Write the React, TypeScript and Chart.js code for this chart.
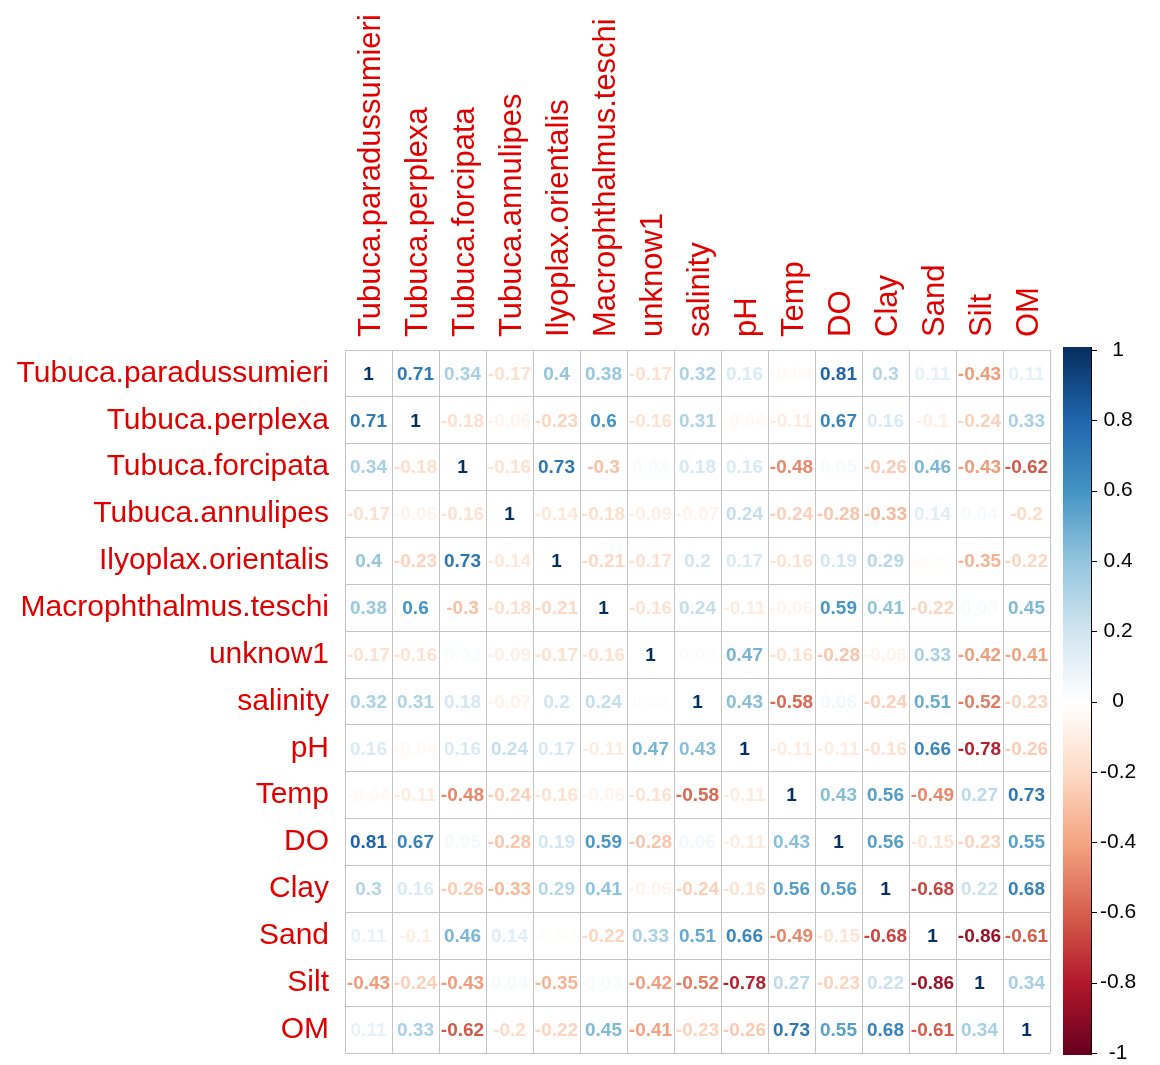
import { useEffect, useRef } from 'react';
import { Chart, registerables } from 'chart.js';

Chart.register(...registerables);

const variables = [
  'Tubuca.paradussumieri', 'Tubuca.perplexa', 'Tubuca.forcipata', 'Tubuca.annulipes',
  'Ilyoplax.orientalis', 'Macrophthalmus.teschi', 'unknow1', 'salinity', 'pH', 'Temp',
  'DO', 'Clay', 'Sand', 'Silt', 'OM',
];

const rowParadussumieri = [1, 0.71, 0.34, -0.17, 0.4, 0.38, -0.17, 0.32, 0.16, -0.04, 0.81, 0.3, 0.11, -0.43, 0.11];
const rowPerplexa = [0.71, 1, -0.18, -0.06, -0.23, 0.6, -0.16, 0.31, -0.04, -0.11, 0.67, 0.16, -0.1, -0.24, 0.33];
const rowForcipata = [0.34, -0.18, 1, -0.16, 0.73, -0.3, 0.03, 0.18, 0.16, -0.48, 0.05, -0.26, 0.46, -0.43, -0.62];
const rowAnnulipes = [-0.17, -0.06, -0.16, 1, -0.14, -0.18, -0.09, -0.07, 0.24, -0.24, -0.28, -0.33, 0.14, 0.04, -0.2];
const rowIlyoplax = [0.4, -0.23, 0.73, -0.14, 1, -0.21, -0.17, 0.2, 0.17, -0.16, 0.19, 0.29, -0.02, -0.35, -0.22];
const rowMacrophthalmus = [0.38, 0.6, -0.3, -0.18, -0.21, 1, -0.16, 0.24, -0.11, -0.06, 0.59, 0.41, -0.22, 0.03, 0.45];
const rowUnknow1 = [-0.17, -0.16, 0.03, -0.09, -0.17, -0.16, 1, 0.02, 0.47, -0.16, -0.28, -0.06, 0.33, -0.42, -0.41];
const rowSalinity = [0.32, 0.31, 0.18, -0.07, 0.2, 0.24, 0.02, 1, 0.43, -0.58, 0.06, -0.24, 0.51, -0.52, -0.23];
const rowPH = [0.16, -0.04, 0.16, 0.24, 0.17, -0.11, 0.47, 0.43, 1, -0.11, -0.11, -0.16, 0.66, -0.78, -0.26];
const rowTemp = [-0.04, -0.11, -0.48, -0.24, -0.16, -0.06, -0.16, -0.58, -0.11, 1, 0.43, 0.56, -0.49, 0.27, 0.73];
const rowDO = [0.81, 0.67, 0.05, -0.28, 0.19, 0.59, -0.28, 0.06, -0.11, 0.43, 1, 0.56, -0.15, -0.23, 0.55];
const rowClay = [0.3, 0.16, -0.26, -0.33, 0.29, 0.41, -0.06, -0.24, -0.16, 0.56, 0.56, 1, -0.68, 0.22, 0.68];
const rowSand = [0.11, -0.1, 0.46, 0.14, -0.02, -0.22, 0.33, 0.51, 0.66, -0.49, -0.15, -0.68, 1, -0.86, -0.61];
const rowSilt = [-0.43, -0.24, -0.43, 0.04, -0.35, 0.03, -0.42, -0.52, -0.78, 0.27, -0.23, 0.22, -0.86, 1, 0.34];
const rowOM = [0.11, 0.33, -0.62, -0.2, -0.22, 0.45, -0.41, -0.23, -0.26, 0.73, 0.55, 0.68, -0.61, 0.34, 1];

const corrRows = [
  rowParadussumieri, rowPerplexa, rowForcipata, rowAnnulipes, rowIlyoplax, rowMacrophthalmus,
  rowUnknow1, rowSalinity, rowPH, rowTemp, rowDO, rowClay, rowSand, rowSilt, rowOM,
];

// RdBu palette from -1 (index 0) to +1 (last)
const palette = ['#67001F', '#B2182B', '#D6604D', '#F4A582', '#FDDBC7', '#FFFFFF', '#D1E5F0', '#92C5DE', '#4393C3', '#2166AC', '#053061'];

const FONT = "'Liberation Sans', Arial, Helvetica, sans-serif";
const LABEL_RED = '#E00000';
const GRID = '#c4c4c4';

function hexToRgb(h: string) {
  const n = parseInt(h.slice(1), 16);
  return [(n >> 16) & 255, (n >> 8) & 255, n & 255];
}

function colorFor(v: number) {
  const t = ((v + 1) / 2) * (palette.length - 1);
  const i = Math.max(0, Math.min(palette.length - 2, Math.floor(t)));
  const f = t - i;
  const a = hexToRgb(palette[i]);
  const b = hexToRgb(palette[i + 1]);
  const c = a.map((x, k) => Math.round(x + (b[k] - x) * f));
  return `rgb(${c[0]},${c[1]},${c[2]})`;
}

function fmt(v: number) {
  return String(Math.round(v * 100) / 100);
}

export default function App() {
  const ref = useRef<HTMLCanvasElement>(null);

  useEffect(() => {
    if (!ref.current) return;
    const points: { x: string; y: string; v: number }[] = [];
    corrRows.forEach((row, i) => {
      row.forEach((v, j) => {
        points.push({ x: variables[j], y: variables[i], v });
      });
    });

    const corrPlugin = {
      id: 'corrText',
      afterDatasetsDraw(chart: any) {
        const ctx = chart.ctx;
        const meta = chart.getDatasetMeta(0);
        ctx.save();
        ctx.font = `bold 19px ${FONT}`;
        ctx.textAlign = 'center';
        ctx.textBaseline = 'middle';
        meta.data.forEach((el: any, k: number) => {
          const d = points[k];
          ctx.fillStyle = colorFor(d.v);
          ctx.fillText(fmt(d.v), el.x, el.y + 1);
        });
        ctx.restore();
      },
      afterDraw(chart: any) {
        const ctx = chart.ctx;
        const cb = chart.scales.cb;
        const top = cb.getPixelForValue(1);
        const bottom = cb.getPixelForValue(-1);
        const x0 = chart.chartArea.right + 13;
        const w = 28;
        ctx.save();
        const grad = ctx.createLinearGradient(0, bottom, 0, top);
        palette.forEach((c, i) => grad.addColorStop(i / (palette.length - 1), c));
        ctx.fillStyle = grad;
        ctx.fillRect(x0, top - 3, w, bottom - top + 5);
        ctx.strokeStyle = '#000';
        ctx.lineWidth = 1;
        ctx.beginPath();
        ctx.moveTo(x0 + w + 0.5, top - 3);
        ctx.lineTo(x0 + w + 0.5, bottom + 2);
        cb.ticks.forEach((t: any) => {
          const y = Math.round(cb.getPixelForValue(t.value)) + 0.5;
          ctx.moveTo(x0 + w, y);
          ctx.lineTo(x0 + w + 6, y);
        });
        ctx.stroke();
        ctx.restore();
      },
    };

    const zeroPad = (s: any) => {
      s.paddingTop = 0;
      s.paddingBottom = 0;
      s.paddingLeft = 0;
      s.paddingRight = 0;
    };

    const chart = new Chart(ref.current, {
      type: 'scatter',
      data: {
        datasets: [
          {
            data: points as any,
            xAxisID: 'x',
            yAxisID: 'y',
            pointRadius: 0,
            pointHoverRadius: 0,
            showLine: false,
          },
        ],
      },
      options: {
        responsive: false,
        animation: false,
        events: [],
        layout: { padding: { left: 0, top: 0, right: 0, bottom: 12 } },
        plugins: { legend: { display: false }, tooltip: { enabled: false } },
        scales: {
          x: {
            type: 'category',
            labels: variables,
            position: 'top',
            offset: true,
            grid: { offset: true, color: GRID, drawTicks: false },
            border: { color: GRID },
            ticks: {
              color: LABEL_RED,
              font: { family: FONT, size: 31 },
              minRotation: 90,
              maxRotation: 90,
              autoSkip: false,
              padding: 13,
              labelOffset: 40,
            },
            afterFit: (s: any) => {
              s.height = 350;
              zeroPad(s);
            },
          },
          y: {
            type: 'category',
            labels: variables,
            position: 'left',
            offset: true,
            grid: { offset: true, color: GRID, drawTicks: false },
            border: { color: GRID },
            ticks: {
              color: LABEL_RED,
              font: { family: FONT, size: 30 },
              autoSkip: false,
              padding: 16,
            },
            afterFit: (s: any) => {
              s.width = 345;
              zeroPad(s);
            },
          },
          cb: {
            type: 'linear',
            position: 'right',
            min: -1,
            max: 1,
            grid: { display: false, drawTicks: false },
            border: { display: false },
            ticks: {
              stepSize: 0.2,
              color: '#000',
              font: { family: FONT, size: 21 },
              crossAlign: 'center',
              padding: 50,
              callback: (v: any) => String(Math.round(Number(v) * 10) / 10),
            },
            afterFit: (s: any) => {
              s.width = 110;
              zeroPad(s);
            },
          },
        },
      } as any,
      plugins: [corrPlugin],
    });

    return () => chart.destroy();
  }, []);

  return (
    <div style={{ position: 'absolute', left: 0, top: 0, width: 1160, height: 1065, background: '#fff' }}>
      <canvas ref={ref} width={1160} height={1065} />
    </div>
  );
}
